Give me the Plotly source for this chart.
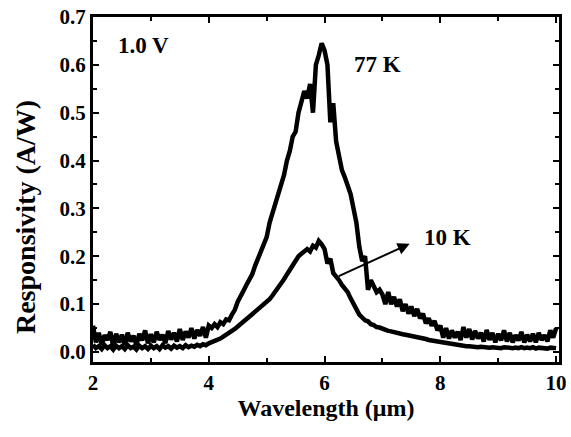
import numpy as np
import plotly.graph_objects as go

# Wavelength sampling grid (µm), 2.00 .. 10.00 in 0.05 steps
wavelength = np.round(np.arange(2.0, 10.0001, 0.05), 2)

# Responsivity at 77 K (A/W)
resp_77K = [
    0.055, 0.020, 0.040, 0.015, 0.035, 0.025, 0.042, 0.012, 0.038, 0.020,  # 2.00-2.45
    0.036, 0.015, 0.040, 0.022, 0.034, 0.014, 0.038, 0.024, 0.045, 0.018,  # 2.50-2.95
    0.037, 0.020, 0.042, 0.025, 0.036, 0.018, 0.044, 0.026, 0.040, 0.022,  # 3.00-3.45
    0.048, 0.025, 0.043, 0.030, 0.050, 0.028, 0.046, 0.034, 0.052, 0.030,  # 3.50-3.95
    0.055, 0.050, 0.058, 0.052, 0.062, 0.058, 0.068, 0.066, 0.078, 0.088,  # 4.00-4.45
    0.105, 0.115, 0.128, 0.140, 0.150, 0.162, 0.180, 0.195, 0.215, 0.228,  # 4.50-4.95
    0.240, 0.270, 0.290, 0.310, 0.330, 0.355, 0.370, 0.400, 0.420, 0.450,  # 5.00-5.45
    0.460, 0.500, 0.520, 0.545, 0.530, 0.560, 0.500, 0.600, 0.620, 0.645,  # 5.50-5.95
    0.630, 0.600, 0.480, 0.520, 0.440, 0.410, 0.380, 0.365, 0.345, 0.330,  # 6.00-6.45
    0.300, 0.270, 0.220, 0.190, 0.200, 0.130, 0.150, 0.135, 0.125, 0.130,  # 6.50-6.95
    0.120, 0.100, 0.125, 0.100, 0.115, 0.095, 0.110, 0.085, 0.100, 0.080,  # 7.00-7.45
    0.095, 0.075, 0.090, 0.070, 0.080, 0.060, 0.070, 0.055, 0.065, 0.045,  # 7.50-7.95
    0.055, 0.030, 0.050, 0.028, 0.045, 0.030, 0.042, 0.025, 0.052, 0.030,  # 8.00-8.45
    0.048, 0.026, 0.044, 0.028, 0.040, 0.022, 0.046, 0.025, 0.040, 0.020,  # 8.50-8.95
    0.038, 0.024, 0.045, 0.022, 0.040, 0.020, 0.035, 0.024, 0.042, 0.020,  # 9.00-9.45
    0.036, 0.022, 0.038, 0.020, 0.040, 0.025, 0.035, 0.022, 0.045, 0.030,  # 9.50-9.95
    0.050,                                                                  # 10.00
]

# Responsivity at 10 K (A/W)
resp_10K = [
    0.015, 0.008, 0.012, 0.006, 0.014, 0.008, 0.012, 0.005, 0.013, 0.008,  # 2.00-2.45
    0.012, 0.006, 0.014, 0.008, 0.011, 0.005, 0.013, 0.008, 0.012, 0.006,  # 2.50-2.95
    0.013, 0.008, 0.012, 0.006, 0.014, 0.009, 0.012, 0.007, 0.013, 0.009,  # 3.00-3.45
    0.012, 0.008, 0.014, 0.010, 0.013, 0.011, 0.015, 0.012, 0.016, 0.014,  # 3.50-3.95
    0.018, 0.020, 0.022, 0.025, 0.028, 0.032, 0.036, 0.038, 0.042, 0.048,  # 4.00-4.45
    0.053, 0.058, 0.063, 0.068, 0.073, 0.078, 0.083, 0.087, 0.092, 0.097,  # 4.50-4.95
    0.103, 0.110, 0.118, 0.126, 0.134, 0.142, 0.152, 0.162, 0.172, 0.182,  # 5.00-5.45
    0.190, 0.200, 0.205, 0.210, 0.215, 0.210, 0.222, 0.218, 0.232, 0.225,  # 5.50-5.95
    0.215, 0.185, 0.195, 0.165, 0.158, 0.150, 0.140, 0.132, 0.125, 0.112,  # 6.00-6.45
    0.100, 0.090, 0.078, 0.072, 0.066, 0.064, 0.058, 0.056, 0.052, 0.051,  # 6.50-6.95
    0.048, 0.047, 0.044, 0.043, 0.041, 0.040, 0.038, 0.037, 0.036, 0.035,  # 7.00-7.45
    0.034, 0.032, 0.031, 0.030, 0.028, 0.027, 0.025, 0.024, 0.022, 0.021,  # 7.50-7.95
    0.020, 0.018, 0.017, 0.016, 0.015, 0.014, 0.014, 0.013, 0.013, 0.012,  # 8.00-8.45
    0.012, 0.011, 0.012, 0.010, 0.011, 0.010, 0.011, 0.009, 0.010, 0.009,  # 8.50-8.95
    0.010, 0.008, 0.010, 0.009, 0.010, 0.008, 0.009, 0.008, 0.010, 0.008,  # 9.00-9.45
    0.009, 0.008, 0.010, 0.007, 0.009, 0.008, 0.009, 0.007, 0.009, 0.008,  # 9.50-9.95
    0.008,                                                                  # 10.00
]

x_ticks = [2, 4, 6, 8, 10]
y_ticks = [0.0, 0.1, 0.2, 0.3, 0.4, 0.5, 0.6, 0.7]

FONT = "Liberation Serif"

fig = go.Figure()
fig.add_trace(go.Scatter(x=wavelength, y=resp_77K, mode="lines",
                         line=dict(color="black", width=4.5), name="77 K"))
fig.add_trace(go.Scatter(x=wavelength, y=resp_10K, mode="lines",
                         line=dict(color="black", width=4.5), name="10 K"))

axis_common = dict(
    showline=True, linecolor="black", linewidth=3, mirror="allticks",
    ticks="inside", ticklen=6, tickwidth=2, tickcolor="black",
    showgrid=False, zeroline=False, automargin=False,
    tickfont=dict(family=FONT, size=21, color="black", weight="bold"),
)

fig.update_layout(
    width=571, height=437,
    margin=dict(l=93, r=12, t=17, b=75),
    paper_bgcolor="white", plot_bgcolor="white",
    showlegend=False,
    xaxis=dict(range=[2, 10.05], tickvals=x_ticks,
               minor=dict(dtick=1, ticks="inside", ticklen=4, tickcolor="black", tickwidth=2),
               title=dict(text="Wavelength (μm)", standoff=4,
                          font=dict(family=FONT, size=24, color="black", weight="bold")),
               **axis_common),
    yaxis=dict(range=[-0.021, 0.7], tickvals=y_ticks, tickformat=".1f",
               minor=dict(dtick=0.05, tick0=0, ticks="inside", ticklen=4, tickcolor="black", tickwidth=2),
               **axis_common),
)

# y-axis title (placed as rotated text, lower than the plot centre as in the original)
fig.add_annotation(xref="paper", yref="paper", x=-0.146, y=0.42,
                   xanchor="center", yanchor="middle", textangle=-90,
                   text="Responsivity (A/W)", showarrow=False,
                   font=dict(family=FONT, size=28, color="black", weight="bold"))

ann_font = dict(family=FONT, size=23, color="black", weight="bold")
fig.add_annotation(x=2.88, y=0.64, text="1.0 V", showarrow=False, font=ann_font)
fig.add_annotation(x=6.92, y=0.60, text="77 K", showarrow=False, font=ann_font)
fig.add_annotation(x=8.12, y=0.24, text="10 K", showarrow=False, font=ann_font)
# arrow pointing from the 10 K curve toward its label
fig.add_annotation(x=7.47, y=0.226, ax=6.22, ay=0.157, xref="x", yref="y",
                   axref="x", ayref="y", text="", showarrow=True,
                   arrowhead=2, arrowsize=1.2, arrowwidth=2, arrowcolor="black",
                   standoff=0, startstandoff=0)

fig.write_html("out.html", config={"displayModeBar": False},
               post_script="document.body.style.margin='0';document.body.style.overflow='hidden';")
